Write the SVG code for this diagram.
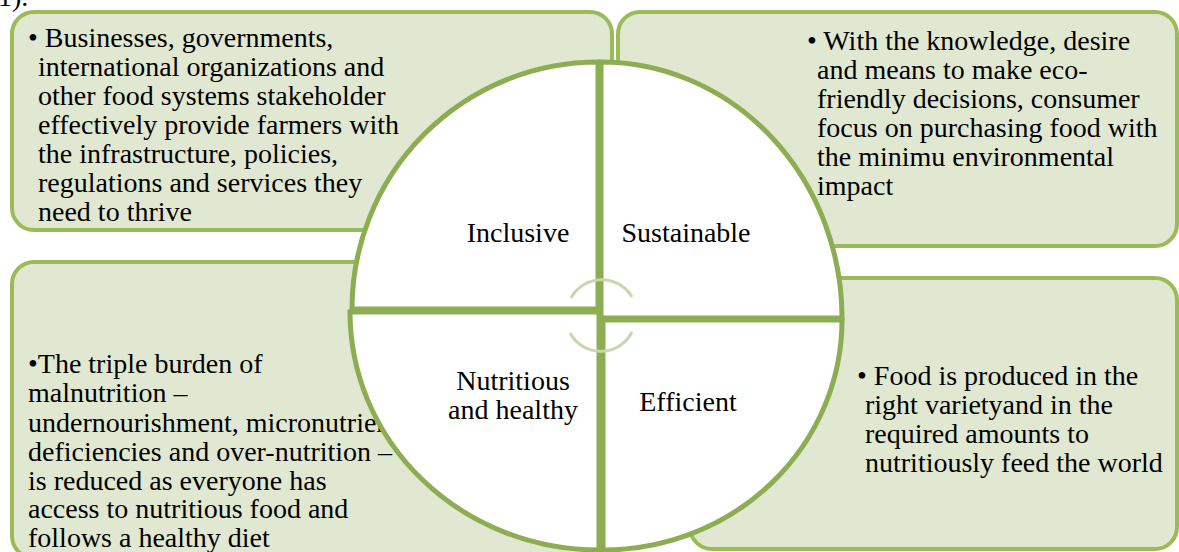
<svg xmlns="http://www.w3.org/2000/svg" width="1179" height="552" viewBox="0 0 1179 552">
<style>
.box{fill:#E0E8D2;stroke:#9BBB59;stroke-width:4}
.q{fill:#FFFFFF;stroke:#8CAD52;stroke-width:5;stroke-linejoin:miter}
.t{font-family:'Liberation Serif','Times New Roman',serif;font-size:28px;fill:#000}
.lbl{font-family:'Liberation Serif','Times New Roman',serif;font-size:28px;fill:#000;text-anchor:middle}
.arr{fill:none;stroke:#C5D8AC;stroke-width:3}
</style>
<rect width="1179" height="552" fill="#FFFFFF"/>
<text class="t" x="-2" y="6">1).</text>
<g id="box-inclusive">
<rect class="box" x="12" y="12" width="600" height="218" rx="22"/>
<text class="t"><tspan x="28" y="47">• Businesses, governments,</tspan><tspan x="38" y="76">international organizations and</tspan><tspan x="38" y="105">other food systems stakeholder</tspan><tspan x="38" y="134">effectively provide farmers with</tspan><tspan x="38" y="163">the infrastructure, policies,</tspan><tspan x="38" y="192">regulations and services they</tspan><tspan x="38" y="221">need to thrive</tspan></text>
</g>
<g id="box-sustainable">
<rect class="box" x="618" y="12" width="559" height="234" rx="22"/>
<text class="t"><tspan x="807" y="50">• With the knowledge, desire</tspan><tspan x="817" y="79">and means to make eco-</tspan><tspan x="817" y="108">friendly decisions, consumer</tspan><tspan x="817" y="137">focus on purchasing food with</tspan><tspan x="817" y="166">the minimu environmental</tspan><tspan x="817" y="195">impact</tspan></text>
</g>
<g id="box-nutritious">
<rect class="box" x="12" y="262" width="580" height="296" rx="22"/>
<text class="t"><tspan x="28" y="373">•The triple burden of</tspan><tspan x="28" y="402">malnutrition –</tspan><tspan x="28" y="432">undernourishment, micronutrient</tspan><tspan x="28" y="461">deficiencies and over-nutrition –</tspan><tspan x="28" y="490">is reduced as everyone has</tspan><tspan x="28" y="518">access to nutritious food and</tspan><tspan x="28" y="547">follows a healthy diet</tspan></text>
</g>
<g id="box-efficient">
<rect class="box" x="690" y="278" width="487" height="271" rx="22"/>
<text class="t"><tspan x="857" y="385">• Food is produced in the</tspan><tspan x="865" y="414">right varietyand in the</tspan><tspan x="865" y="443">required amounts to</tspan><tspan x="865" y="472">nutritiously feed the world</tspan></text>
</g>
<g id="q-inclusive">
<path class="q" d="M598,309 L352,309 A246,247 0 0 1 598,62 Z"/>
<text class="lbl" x="518" y="242">Inclusive</text>
</g>
<g id="q-sustainable">
<path class="q" d="M601,318 L601,62 A241,256 0 0 1 842,318 Z"/>
<text class="lbl" x="686" y="242">Sustainable</text>
</g>
<g id="q-nutritious">
<path class="q" d="M599,312 L599,550 A249,238 0 0 1 350,312 Z"/>
<text class="lbl"><tspan x="513" y="390">Nutritious</tspan><tspan x="513" y="419">and healthy</tspan></text>
</g>
<g id="q-efficient">
<path class="q" d="M603,320 L842,320 A239,230 0 0 1 603,550 Z"/>
<text class="lbl" x="688" y="411">Efficient</text>
</g>
<g id="connectors">
<path class="arr" d="M571,298 A35,35 0 0 1 632,297"/>
<path class="arr" d="M570,333 A35,35 0 0 0 632,332"/>
</g>
</svg>
